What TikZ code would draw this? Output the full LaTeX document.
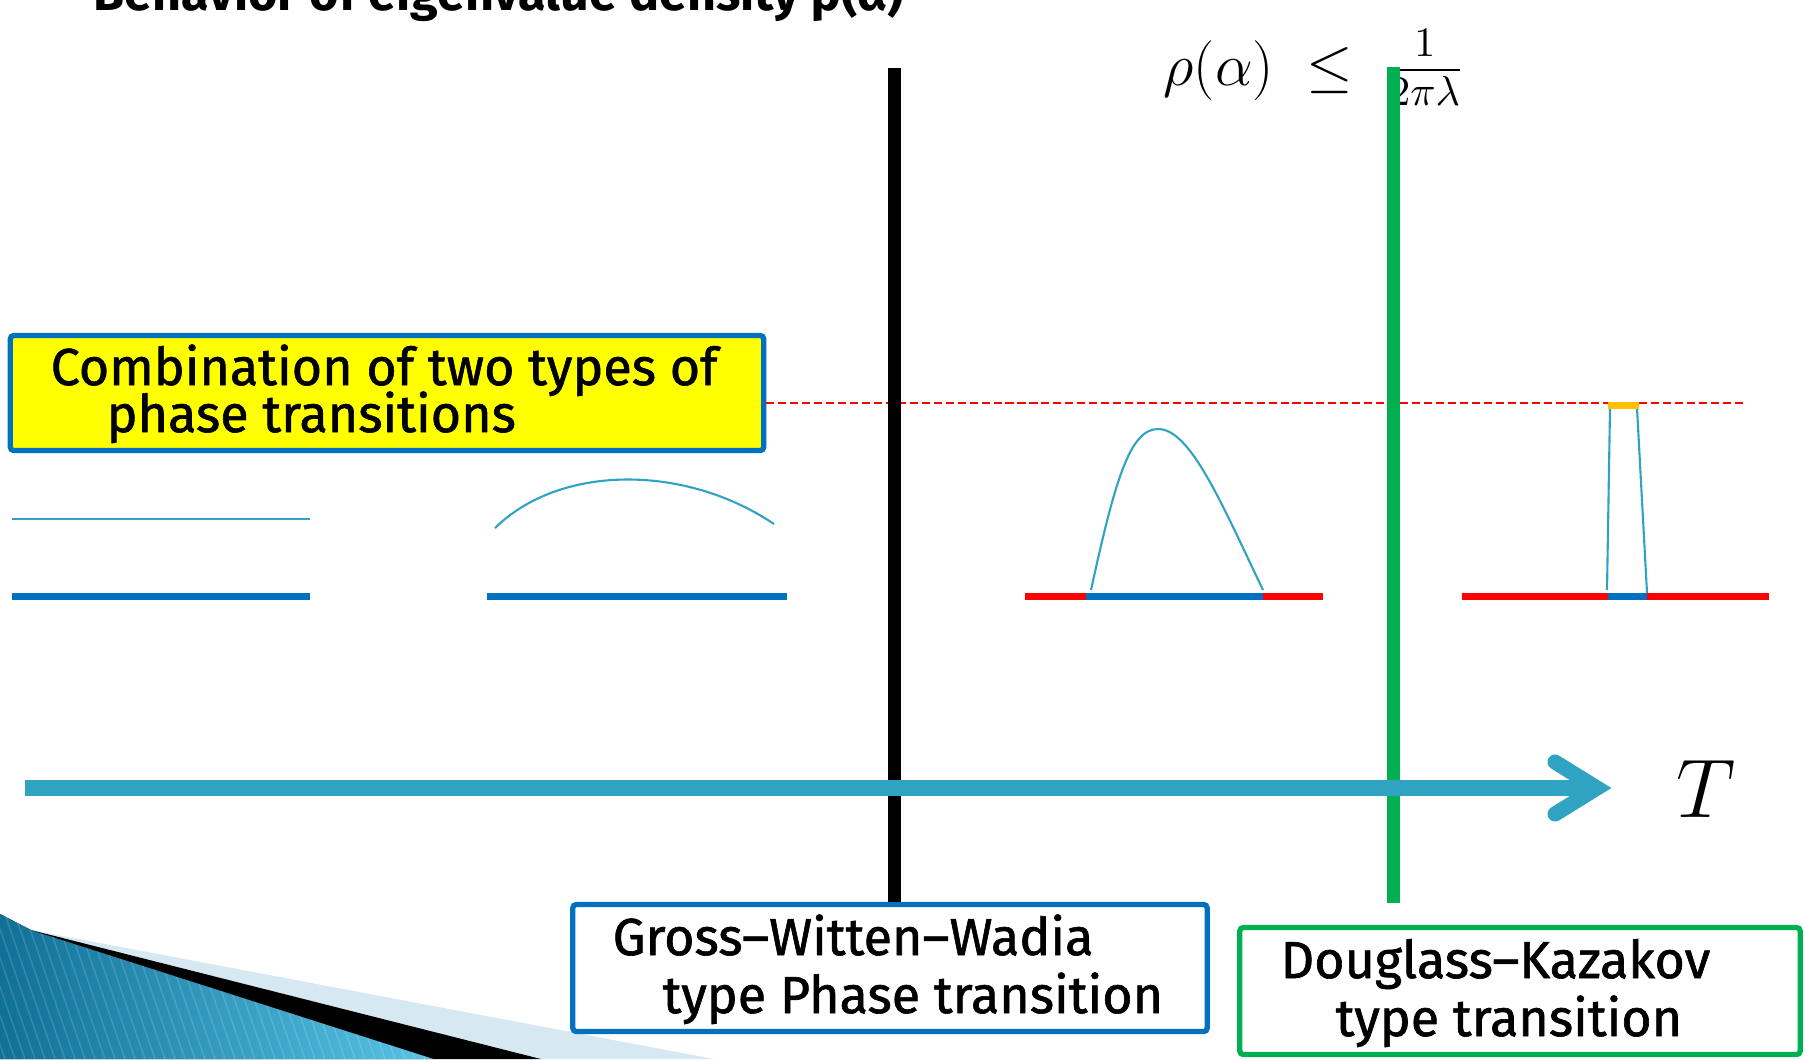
\documentclass[tikz,border=0pt]{standalone}
\usepackage{fix-cm}
\usepackage{fontspec}
\setmainfont{Fira Sans}
\newfontfamily\boxfont[FakeBold=1.2]{Fira Sans}
\usetikzlibrary{positioning}
\definecolor{myblue}{RGB}{0,112,192}
\definecolor{myteal}{RGB}{47,163,193}
\definecolor{mygreen}{RGB}{0,176,80}
\definecolor{myorange}{RGB}{255,192,0}
\definecolor{myyellow}{RGB}{255,255,0}
\definecolor{mylightblue}{RGB}{214,233,242}
\definecolor{mydarkteal}{RGB}{16,112,150}
\definecolor{mybrightteal}{RGB}{88,196,230}
\tikzset{
  labelbox/.style={
    rectangle,
    draw=myblue,
    line width=1.5pt,
    rounded corners=1pt,
    inner sep=0pt,
    fill=white,
  },
  boxtext/.style={
    anchor=base west,
    inner sep=0pt,
    font=\boxfont\fontsize{14.8}{17}\selectfont,
  },
  densityline/.style={
    myteal,
    line width=0.6pt
  },
  supportbar/.style={
    myblue,
    line width=2pt
  },
  gapbar/.style={
    red,
    line width=2pt
  },
  bound/.style={
    red,
    line width=0.55pt,
    dash pattern=on 2.3pt off 1.1pt
  },
  transline/.style={
    line width=3.7pt
  },
  axisline/.style={
    myteal,
    line width=4.3pt,
    line cap=round
  },
}

\begin{document}
\begin{tikzpicture}[x=0.01cm,y=-0.01cm]
\useasboundingbox (0,0) rectangle (1806,1059);

% corner decoration
\fill[left color=mydarkteal, right color=mybrightteal]
  (0,914) -- (31,930) -- (434,1059) -- (0,1059) -- cycle;
\begin{scope}
\clip (0,914) -- (31,930) -- (434,1059) -- (0,1059) -- cycle;
\foreach \i in {-10,...,50}
  \draw[white, opacity=0.15, line width=0.4pt] (\i*10,900) -- (\i*10+55,1059);
\end{scope}
\fill[mylightblue] (31,930) -- (714,1059) -- (541,1059) -- cycle;
\fill[black] (31,930) -- (541,1059) -- (434,1059) -- cycle;

% title and bound
\node[anchor=base west, inner sep=0pt, font=\fontsize{14.3}{16}\selectfont\bfseries]
  (title) at (93,10)
  {Behavior of eigenvalue density ρ(α)};
\node[anchor=base west, inner sep=0pt, font=\fontsize{17}{20}\selectfont]
  (rhobound) at (1163,85)
  {$\rho(\alpha)\ \leq\ \frac{\raisebox{1.5pt}{$\scriptstyle 1$}}{2\pi\lambda}$};

% boxes
\node[labelbox, fill=myyellow, minimum width=7.53cm, minimum height=1.15cm]
  (combo) at (387,393) {};
\node[boxtext] (combo1) at (50,385) {Combination of two types of};
\node[boxtext] (combo2) at (106,432) {phase transitions};

\node[labelbox, minimum width=6.34cm, minimum height=1.27cm]
  (gww) at (890,968) {};
\node[boxtext] (gww1) at (612,955) {Gross–Witten–Wadia};
\node[boxtext] (gww2) at (662,1013) {type Phase transition};

\node[labelbox, draw=mygreen, minimum width=5.6cm, minimum height=1.27cm]
  (dk) at (1520,991) {};
\node[boxtext] (dk1) at (1280,978) {Douglass–Kazakov};
\node[boxtext] (dk2) at (1335,1036) {type transition};

% upper bound of density
\coordinate (boundend) at (1745,403);
\draw[bound] (combo.east|-boundend) -- (boundend);

% uniform
\draw[densityline] (12,519) -- (310,519);
\draw[supportbar] (12,596) -- (310,596);

% deformed
\draw[densityline] (495,528) .. controls (560,464) and (685,464) .. (774,524);
\draw[supportbar] (487,596) -- (787,596);

% gapped
\draw[gapbar] (1025,596) -- (1086,596);
\draw[supportbar] (1086,596) -- (1263,596);
\draw[gapbar] (1263,596) -- (1323,596);
\draw[densityline] (1091,590) .. controls (1115,480) and (1130,429) .. (1158,429)
  .. controls (1190,429) and (1220,500) .. (1263,590);

% saturated
\draw[gapbar] (1462,596) -- (1608,596);
\draw[supportbar] (1608,596) -- (1647,596);
\draw[gapbar] (1647,596) -- (1769,596);
\draw[densityline] (1607,590) -- (1610,408);
\draw[densityline] (1647,593) -- (1637,408);
\fill[myorange] (1608,402) rectangle (1639,409);

% transitions
\coordinate (gwwtop) at (894,68);
\draw[transline, black] (gwwtop) -- (gwwtop|-gww.north);
\coordinate (dktop) at (1393,67);
\coordinate (dkbot) at (1393,903);
\draw[transline, mygreen] (dktop) -- (dkbot);

% temperature axis
\coordinate (tstart) at (25,788);
\coordinate (ttip) at (1597,788);
\draw[axisline, line cap=butt] (tstart) -- (ttip);
\draw[axisline, line join=miter] (1555,762) -- (ttip) -- (1555,814);
\node[anchor=base west, inner sep=0pt, font=\fontsize{23.7}{26}\selectfont]
  (tlabel) at (1676,817) {$T$};
\end{tikzpicture}
\end{document}
